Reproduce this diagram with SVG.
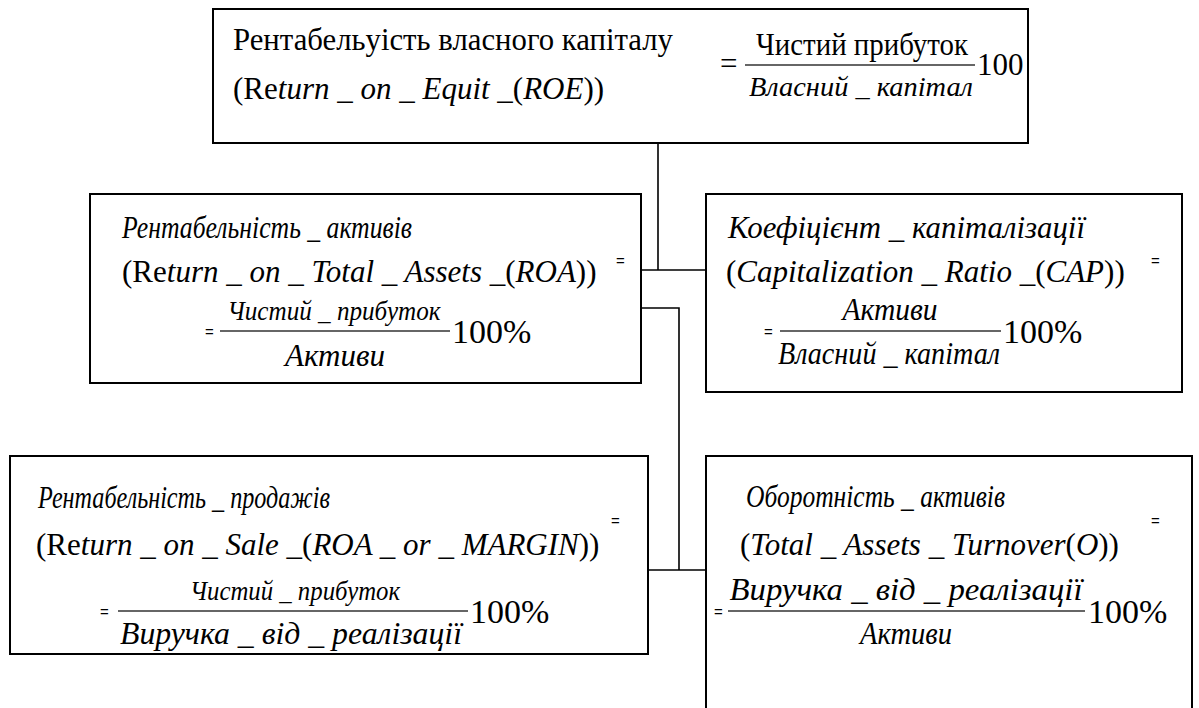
<svg xmlns="http://www.w3.org/2000/svg" width="1199" height="708" viewBox="0 0 1199 708">
<style>
.box{fill:#fff;stroke:#000;stroke-width:2}
.con{fill:none;stroke:#000;stroke-width:1.6}
.frac{stroke:#333;stroke-width:1.6}
text{font-family:'Liberation Serif','Liberation Sans',sans-serif;fill:#000}
.t{font-size:31px}
.s{font-size:28px}
.p{font-size:34px}
.i{font-style:italic}
.eq{font-family:'Liberation Sans',Arial,sans-serif;font-size:15px}
.mid{text-anchor:middle}
</style>
<rect width="1199" height="708" fill="#fff"/>
<g id="connectors">
<path class="con" d="M658,143 V270 M641,270 H706 M641,308 H679 V570 M648,570 H706"/>
</g>
<g id="roe">
<rect class="box" x="213" y="9" width="815" height="134"/>
<text class="t" x="233" y="50" textLength="440" lengthAdjust="spacingAndGlyphs">Рентабельуість власного капіталу</text>
<text class="t" x="233" y="99">(Re<tspan class="i">turn _ on _ Equit _</tspan>(<tspan class="i">ROE</tspan>))</text>
<text class="t" x="720" y="74">=</text>
<line class="frac" x1="745" y1="65" x2="975" y2="65"/>
<text class="t mid" x="862" y="55" textLength="212" lengthAdjust="spacingAndGlyphs">Чистий прибуток</text>
<text class="s i mid" x="861" y="96" textLength="224" lengthAdjust="spacingAndGlyphs">Власний _ капітал</text>
<text class="t" x="977" y="75">100</text>
</g>
<g id="roa">
<rect class="box" x="90" y="194" width="551" height="189"/>
<text class="t i" x="122" y="238" textLength="290" lengthAdjust="spacingAndGlyphs">Рентабельність _ активів</text>
<text class="t" x="122" y="282">(Re<tspan class="i">turn _ on _ Total _ Assets _</tspan>(<tspan class="i">ROA</tspan>))</text>
<text class="eq" x="616" y="266">=</text>
<text class="eq" x="205" y="337">=</text>
<line class="frac" x1="220" y1="331" x2="450" y2="331"/>
<text class="s i mid" x="334" y="320" textLength="213" lengthAdjust="spacingAndGlyphs">Чистий _ прибуток</text>
<text class="t i mid" x="335" y="366" textLength="100" lengthAdjust="spacingAndGlyphs">Активи</text>
<text class="p" x="452" y="343">100%</text>
</g>
<g id="cap">
<rect class="box" x="706" y="194" width="476" height="198"/>
<text class="t i" x="728" y="238" textLength="357" lengthAdjust="spacingAndGlyphs">Коефіцієнт _ капіталізації</text>
<text class="t" x="726" y="282">(<tspan class="i">Capitalization _ Ratio _</tspan>(<tspan class="i">CAP</tspan>))</text>
<text class="eq" x="1151" y="266">=</text>
<text class="eq" x="764" y="337">=</text>
<line class="frac" x1="780" y1="331" x2="1001" y2="331"/>
<text class="t i mid" x="890" y="320" textLength="95" lengthAdjust="spacingAndGlyphs">Активи</text>
<text class="t i mid" x="889" y="364" textLength="222" lengthAdjust="spacingAndGlyphs">Власний _ капітал</text>
<text class="p" x="1003" y="343">100%</text>
</g>
<g id="ros">
<rect class="box" x="10" y="456" width="638" height="198"/>
<text class="t i" x="38" y="508" textLength="292" lengthAdjust="spacingAndGlyphs">Рентабельність _ продажів</text>
<text class="t" x="36" y="555">(Re<tspan class="i">turn _ on _ Sale _</tspan>(<tspan class="i">ROA _ or _ MARGIN</tspan>))</text>
<text class="eq" x="611" y="526">=</text>
<text class="eq" x="100" y="617">=</text>
<line class="frac" x1="118" y1="611" x2="468" y2="611"/>
<text class="s i mid" x="295" y="600" textLength="210" lengthAdjust="spacingAndGlyphs">Чистий _ прибуток</text>
<text class="t i mid" x="291" y="644" textLength="342" lengthAdjust="spacingAndGlyphs">Виручка _ від _ реалізації</text>
<text class="p" x="470" y="623">100%</text>
</g>
<g id="turnover">
<rect class="box" x="706" y="456" width="486" height="262"/>
<text class="t i" x="746" y="507" textLength="259" lengthAdjust="spacingAndGlyphs">Оборотність _ активів</text>
<text class="t" x="740" y="555">(<tspan class="i">Total _ Assets _ Turnover</tspan>(<tspan class="i">O</tspan>))</text>
<text class="eq" x="1151" y="526">=</text>
<text class="eq" x="714" y="617">=</text>
<line class="frac" x1="728" y1="611" x2="1085" y2="611"/>
<text class="t i mid" x="906" y="600" textLength="353" lengthAdjust="spacingAndGlyphs">Виручка _ від _ реалізації</text>
<text class="t i mid" x="906" y="644" textLength="92" lengthAdjust="spacingAndGlyphs">Активи</text>
<text class="p" x="1088" y="623">100%</text>
</g>
</svg>
